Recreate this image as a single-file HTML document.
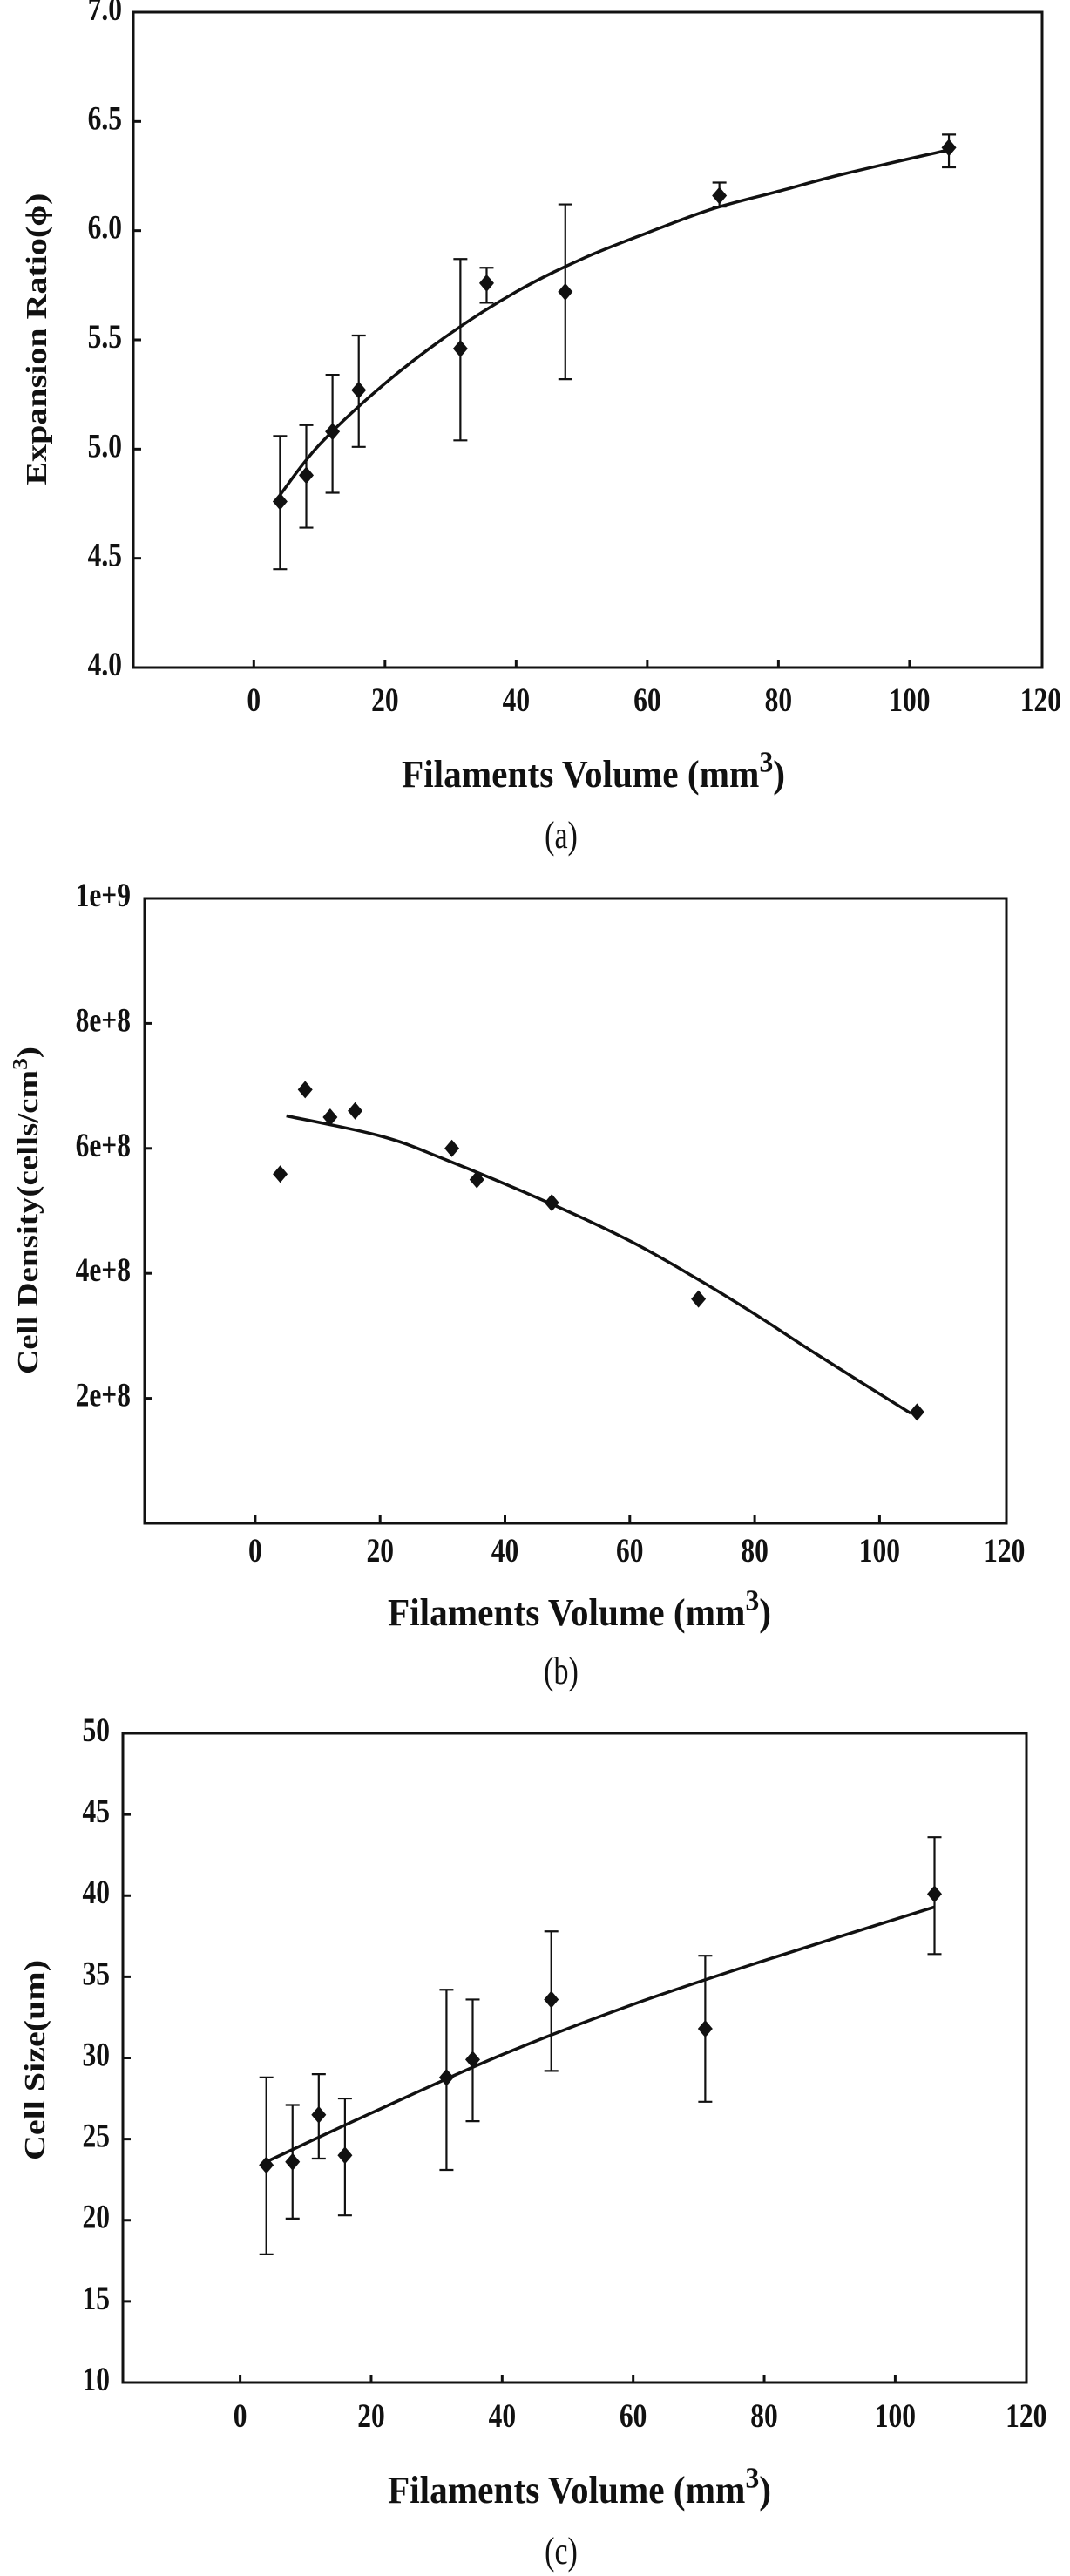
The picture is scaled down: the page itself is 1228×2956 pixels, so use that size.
<!DOCTYPE html>
<html><head><meta charset="utf-8"><style>
html,body{margin:0;padding:0;background:#fff}
svg{display:block}
text{font-family:"Liberation Serif",serif;fill:#111}
</style></head><body>
<svg id="fig" width="1228" height="2956" viewBox="0 0 1228 2956" xmlns="http://www.w3.org/2000/svg"></svg>
<script>
// ---- data: chart (a) expansion ratio ----
const xsA = [4, 8, 12, 16, 31.5, 35.5, 47.5, 71, 106];
const ysA = [4.76, 4.88, 5.08, 5.27, 5.46, 5.76, 5.72, 6.16, 6.38];
const hiA = [5.06, 5.11, 5.34, 5.52, 5.87, 5.83, 6.12, 6.22, 6.44];
const loA = [4.45, 4.64, 4.80, 5.01, 5.04, 5.67, 5.32, 6.11, 6.29];
const fitXA = [4, 10, 20, 30, 40, 50, 60, 70, 80, 90, 106];
const fitYA = [4.79, 5.02, 5.30, 5.53, 5.72, 5.87, 5.99, 6.10, 6.18, 6.26, 6.37];
const yTicksA = [4.0, 4.5, 5.0, 5.5, 6.0, 6.5, 7.0];
const yLabelsA = ["4.0", "4.5", "5.0", "5.5", "6.0", "6.5", "7.0"];
// ---- data: chart (b) cell density ----
const xsB = [4, 8, 12, 16, 31.5, 35.5, 47.5, 71, 106];
const ysB = [5.59e8, 6.94e8, 6.50e8, 6.60e8, 6.00e8, 5.50e8, 5.13e8, 3.59e8, 1.78e8];
const fitXB = [5, 20, 30, 47, 60, 70, 80, 90, 105];
const fitYB = [6.52e8, 6.20e8, 5.84e8, 5.13e8, 4.52e8, 3.96e8, 3.35e8, 2.70e8, 1.76e8];
const yTicksB = [2e8, 4e8, 6e8, 8e8, 1e9];
const yLabelsB = ["2e+8", "4e+8", "6e+8", "8e+8", "1e+9"];
// ---- data: chart (c) cell size ----
const xsC = [4, 8, 12, 16, 31.5, 35.5, 47.5, 71, 106];
const ysC = [23.4, 23.6, 26.5, 24.0, 28.8, 29.9, 33.6, 31.8, 40.1];
const hiC = [28.8, 27.1, 29.0, 27.5, 34.2, 33.6, 37.8, 36.3, 43.6];
const loC = [17.9, 20.1, 23.8, 20.3, 23.1, 26.1, 29.2, 27.3, 36.4];
const fitXC = [4, 20, 40, 60, 80, 106];
const fitYC = [23.6, 26.6, 30.2, 33.3, 36.0, 39.3];
const yTicksC = [10, 15, 20, 25, 30, 35, 40, 45, 50];
const yLabelsC = ["10", "15", "20", "25", "30", "35", "40", "45", "50"];
const xTicks = [0, 20, 40, 60, 80, 100, 120];
const xLabels = ["0", "20", "40", "60", "80", "100", "120"];

const NS = "http://www.w3.org/2000/svg";
const svg = document.getElementById("fig");
function mk(tag, attrs, parent) {
  const e = document.createElementNS(NS, tag);
  for (const k in attrs) e.setAttribute(k, attrs[k]);
  (parent || svg).appendChild(e);
  return e;
}
function smooth(pts) {
  let d = "M" + pts[0][0].toFixed(1) + " " + pts[0][1].toFixed(1);
  for (let i = 0; i < pts.length - 1; i++) {
    const p0 = pts[i - 1] || pts[i], p1 = pts[i], p2 = pts[i + 1], p3 = pts[i + 2] || p2;
    const c1x = p1[0] + (p2[0] - p0[0]) / 6, c1y = p1[1] + (p2[1] - p0[1]) / 6;
    const c2x = p2[0] - (p3[0] - p1[0]) / 6, c2y = p2[1] - (p3[1] - p1[1]) / 6;
    d += ` C${c1x.toFixed(1)} ${c1y.toFixed(1)} ${c2x.toFixed(1)} ${c2y.toFixed(1)} ${p2[0].toFixed(1)} ${p2[1].toFixed(1)}`;
  }
  return d;
}

function chart(cfg, xs, ys, hi, lo, fx, fy, yt, yl) {
  const g = mk("g", {});
  
  
  const X = v => cfg.x0 + (v / 100) * (cfg.x100 - cfg.x0);
  const Y = v => cfg.bottom - (v - cfg.ymin) / (cfg.ymax - cfg.ymin) * (cfg.bottom - cfg.top);
  const box = mk("rect", {x: cfg.left, y: cfg.top, width: cfg.right - cfg.left, height: cfg.bottom - cfg.top, fill: "none", stroke: "#111", "stroke-width": 3}, g);
  
  
  xTicks.forEach((t, i) => {
    const px = X(t);
    if (px < cfg.right - 4) {
      const tk = mk("line", {x1: px, x2: px, y1: cfg.bottom, y2: cfg.bottom - 9, stroke: "#111", "stroke-width": 3}, g);
      
      
    }
    const tl = mk("text", {transform: `translate(${px},${cfg.xlabY}) scale(1.05,1.3)`, "text-anchor": "middle", "font-size": 30, "font-weight": "bold", "dominant-baseline": "middle"}, g);
    tl.textContent = xLabels[i];
    
    
  });
  yt.forEach((t, i) => {
    const py = Y(t);
    if (py > cfg.top + 4 && py < cfg.bottom - 4) {
      const tk = mk("line", {x1: cfg.left, x2: cfg.left + 9, y1: py, y2: py, stroke: "#111", "stroke-width": 3}, g);
      
      
    }
    const tl = mk("text", {transform: `translate(${cfg.ylabX},${py}) scale(1.05,1.3)`, "text-anchor": "end", "font-size": 30, "font-weight": "bold", "dominant-baseline": "middle"}, g);
    tl.textContent = yl[i];
    
    
  });
  const pts = fx.map((v, i) => [X(v), Y(fy[i])]);
  const fit = mk("path", {d: smooth(pts), fill: "none", stroke: "#111", "stroke-width": 3.5, "stroke-linejoin": "round"}, g);
  
  
  if (hi) {
    xs.forEach((v, i) => {
      const px = X(v), a = Y(hi[i]), b = Y(lo[i]);
      const eb = mk("path", {d: `M${px} ${a} L${px} ${b} M${px - 8} ${a} L${px + 8} ${a} M${px - 8} ${b} L${px + 8} ${b}`, stroke: "#111", "stroke-width": 2.2, fill: "none"}, g);
      
      
    });
  }
  xs.forEach((v, i) => {
    const px = X(v), py = Y(ys[i]);
    const m = mk("path", {d: `M${px} ${py - 10} L${px + 8.5} ${py} L${px} ${py + 10} L${px - 8.5} ${py} Z`, fill: "#111"}, g);
    
    
  });
  const xt = mk("text", {transform: `translate(${cfg.xtX},${cfg.xtY}) scale(1,1.3)`, "text-anchor": "middle", "font-size": 34, "font-weight": "bold", "dominant-baseline": "middle", textLength: 440, lengthAdjust: "spacingAndGlyphs"}, g);
  xt.innerHTML = 'Filaments Volume (mm<tspan dy="-12" font-size="26">3</tspan><tspan dy="12">)</tspan>';
  
  
  const ytl = mk("text", {transform: `translate(${cfg.ytX},${cfg.ytY}) rotate(-90)`, "text-anchor": "middle", "font-size": 34, "font-weight": "bold", "dominant-baseline": "middle", textLength: cfg.ytLen, lengthAdjust: "spacingAndGlyphs"}, g);
  ytl.innerHTML = cfg.ytitle;
  
  
  const cap = mk("text", {transform: `translate(${cfg.capX},${cfg.capY}) scale(1,1.3)`, "text-anchor": "middle", "font-size": 34, "dominant-baseline": "middle"}, g);
  cap.textContent = cfg.cap;
  
  
}

chart({name: "chart-expansion-ratio", left: 153, right: 1196, top: 14, bottom: 766, x0: 291.3, x100: 1043.9, ymin: 4, ymax: 7,
  xlabY: 807, ylabX: 140, xtX: 681, xtY: 893, ytX: 45, ytY: 389, ytLen: 335, ytitle: "Expansion Ratio(ϕ)", capX: 644, capY: 963, cap: "(a)"},
  xsA, ysA, hiA, loA, fitXA, fitYA, yTicksA, yLabelsA);

chart({name: "chart-cell-density", left: 166, right: 1155, top: 1031, bottom: 1748, x0: 292.9, x100: 1009.4, ymin: 0, ymax: 1e9,
  xlabY: 1783, ylabX: 150, xtX: 665, xtY: 1855, ytX: 35, ytY: 1389, ytLen: 376,
  ytitle: 'Cell Density(cells/cm<tspan dy="-10" font-size="24">3</tspan><tspan dy="10">)</tspan>', capX: 644, capY: 1922, cap: "(b)"},
  xsB, ysB, null, null, fitXB, fitYB, yTicksB, yLabelsB);

chart({name: "chart-cell-size", left: 141, right: 1178, top: 1989, bottom: 2734, x0: 275.6, x100: 1027.4, ymin: 10, ymax: 50,
  xlabY: 2776, ylabX: 126, xtX: 665, xtY: 2862, ytX: 43, ytY: 2364, ytLen: 230, ytitle: "Cell Size(um)", capX: 644, capY: 2932, cap: "(c)"},
  xsC, ysC, hiC, loC, fitXC, fitYC, yTicksC, yLabelsC);
</script>
</body></html>
